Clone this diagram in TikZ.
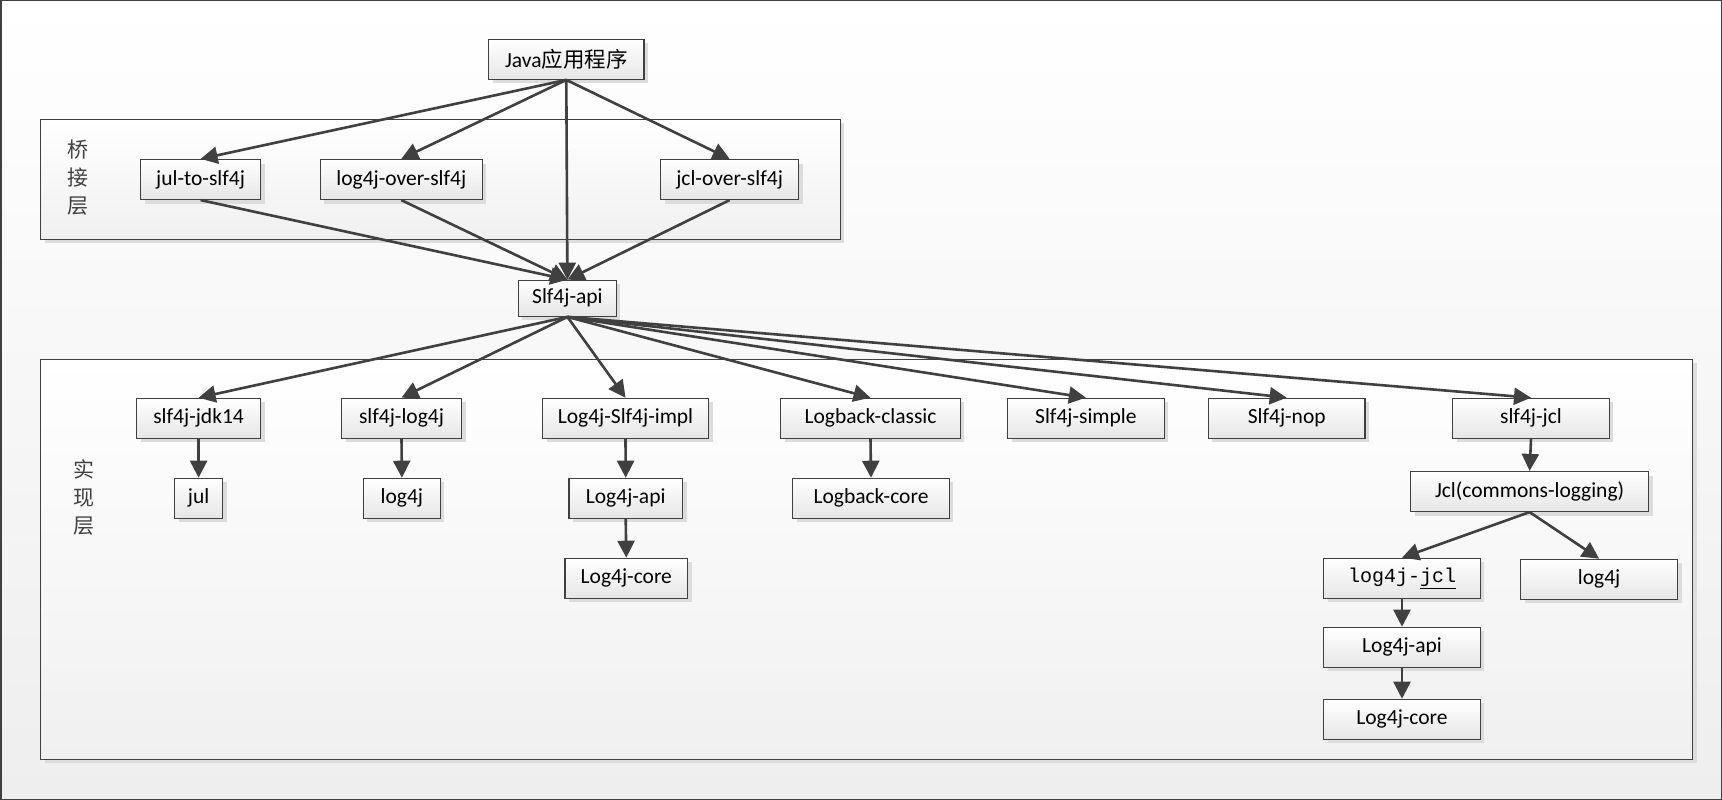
\documentclass[tikz,border=0pt]{standalone}
\usepackage{fontspec}
\setmainfont{Carlito}
\newfontfamily\cjk{Noto Sans CJK SC}
\newfontfamily\monof{Liberation Mono}
\usetikzlibrary{arrows.meta,shadows}
\definecolor{linec}{HTML}{404040}
\definecolor{boxbot}{HTML}{E6E6E6}
\definecolor{bgbot}{HTML}{EEEEEE}
\definecolor{framebot}{HTML}{F0F0F0}
\definecolor{shadowc}{HTML}{DCDCDC}
\begin{document}
\begin{tikzpicture}[x=1pt,y=-1pt,
  box/.style={draw=linec,line width=1.2pt,top color=white,bottom color=boxbot,
    minimum height=40pt,inner sep=0pt,font=\fontsize{21.5}{26}\selectfont,
    drop shadow={shadow xshift=4pt,shadow yshift=-4pt,fill=shadowc,opacity=1}},
  framebox/.style={draw=linec,line width=1.2pt,top color=white,bottom color=framebot,
    inner sep=0pt,
    drop shadow={shadow xshift=4pt,shadow yshift=-4pt,fill=shadowc,opacity=1}},
  arr/.style={draw=linec,line width=2.6pt,-{Triangle[length=17pt,width=17pt]}},
  layerlabel/.style={font=\cjk\fontsize{21}{28}\selectfont,text=black!75,align=center,inner sep=0pt}]
\useasboundingbox (0,0) rectangle (1722,800);
\path[top color=white,bottom color=bgbot,draw=linec,line width=1.5pt] (0.75,0.75) rectangle (1721.25,799.25);

% frames
\node[framebox,minimum width=799.6pt,minimum height=120pt] (bridgeframe) at (440.6,179.3) {};
\node[framebox,minimum width=1651.9pt,minimum height=400pt] (implframe) at (866.75,559.3) {};
\node[layerlabel] (bridgelbl) at (78,178) {桥\\接\\层};
\node[layerlabel] (impllbl) at (84,497.5) {实\\现\\层};

% nodes
\node[box,minimum width=155.5pt] (java) at (566.3,59.3) {Java{\cjk 应用程序}};
\node[box,minimum width=120pt] (jul2slf) at (200.6,179.5) {jul-to-slf4j};
\node[box,minimum width=162pt] (log4jover) at (401.3,179.5) {log4j-over-slf4j};
\node[box,minimum width=138pt] (jclover) at (729.6,179.5) {jcl-over-slf4j};
\node[box,minimum width=98pt,minimum height=36pt] (api) at (567.4,298.3) {Slf4j-api};

\node[box,minimum width=124pt] (jdk14) at (198.6,418.3) {slf4j-jdk14};
\node[box,minimum width=120pt] (slflog4j) at (401.5,418.3) {slf4j-log4j};
\node[box,minimum width=166pt] (impl) at (625.5,418.3) {Log4j-Slf4j-impl};
\node[box,minimum width=179.6pt] (lbclassic) at (870.5,418.3) {Logback-classic};
\node[box,minimum width=156.7pt] (simple) at (1085.9,418.3) {Slf4j-simple};
\node[box,minimum width=156.7pt] (nop) at (1286.7,418.3) {Slf4j-nop};
\node[box,minimum width=156.7pt] (slfjcl) at (1531,418.3) {slf4j-jcl};

\node[box,minimum width=48.2pt] (jul) at (198.6,498.3) {jul};
\node[box,minimum width=77pt] (log4j) at (401.9,498.3) {log4j};
\node[box,minimum width=113.6pt] (lapi) at (625.7,498.3) {Log4j-api};
\node[box,minimum width=122.8pt] (lcore) at (626.3,578.3) {Log4j-core};
\node[box,minimum width=156.6pt] (lbcore) at (871,498.3) {Logback-core};

\node[box,minimum width=238pt] (jcl) at (1529.6,491.5) {Jcl(commons-logging)};
\node[box,minimum width=156.7pt] (l4jcl) at (1402,578.3) {{\monof\fontsize{20}{24}\selectfont log4j-\underline{jcl}}};
\node[box,minimum width=156.8pt] (log4jr) at (1599.1,579.3) {log4j};
\node[box,minimum width=156.7pt] (lapir) at (1402,647.3) {Log4j-api};
\node[box,minimum width=156.7pt] (lcorer) at (1402,719.3) {Log4j-core};

% connectors
\draw[arr] (java.south) -- (jul2slf.north);
\draw[arr] (java.south) -- (log4jover.north);
\draw[arr] (java.south) -- (jclover.north);
\draw[arr] (java.south) -- (api.north);
\draw[arr] (jul2slf.south) -- (api.north);
\draw[arr] (log4jover.south) -- (api.north);
\draw[arr] (jclover.south) -- (api.north);

\draw[arr] (api.south) -- (jdk14.north);
\draw[arr] (api.south) -- (slflog4j.north);
\draw[arr] (api.south) -- (impl.north);
\draw[arr] (api.south) -- (lbclassic.north);
\draw[arr] (api.south) -- (simple.north);
\draw[arr] (api.south) -- (nop.north);
\draw[arr] (api.south) -- (slfjcl.north);

\draw[arr] (jdk14.south) -- (jul.north);
\draw[arr] (slflog4j.south) -- (log4j.north);
\draw[arr] (impl.south) -- (lapi.north);
\draw[arr] (lapi.south) -- (lcore.north);
\draw[arr] (lbclassic.south) -- (lbcore.north);
\draw[arr] (slfjcl.south) -- (jcl.north);
\draw[arr] (jcl.south) -- (l4jcl.north);
\draw[arr] (jcl.south) -- (log4jr.north);
\draw[arr] (l4jcl.south) -- (lapir.north);
\draw[arr] (lapir.south) -- (lcorer.north);
\end{tikzpicture}
\end{document}
